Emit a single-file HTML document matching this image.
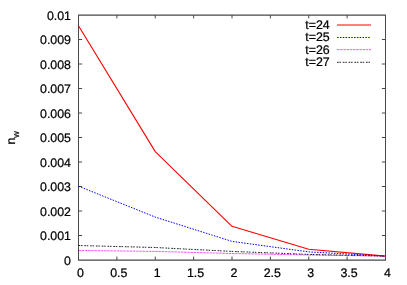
<!DOCTYPE html>
<html><head><meta charset="utf-8">
<style>
html,body{margin:0;padding:0;background:#fff;}
body{width:407px;height:285px;overflow:hidden;}
svg{display:block;will-change:transform;}
text{font-family:"Liberation Sans",sans-serif;font-size:12.4px;fill:#000;stroke:#000;stroke-width:0.22px;text-rendering:geometricPrecision;}
</style></head><body>
<svg width="407" height="285" viewBox="0 0 407 285">
<rect width="407" height="285" fill="#fff"/>
<g stroke="#484848" stroke-width="1" fill="none">
<path d="M78.5,15.0 L78.5,260.0 M385.5,15.0 L385.5,260.0"/>
<path stroke-width="1.2" d="M78.0,15.1 L386.0,15.1 M78.0,260.1 L386.0,260.1"/>
<path d="M78.5,235.50 h3.6 M385.5,235.50 h-3.6 M78.5,211.00 h3.6 M385.5,211.00 h-3.6 M78.5,186.50 h3.6 M385.5,186.50 h-3.6 M78.5,162.00 h3.6 M385.5,162.00 h-3.6 M78.5,137.50 h3.6 M385.5,137.50 h-3.6 M78.5,113.00 h3.6 M385.5,113.00 h-3.6 M78.5,88.50 h3.6 M385.5,88.50 h-3.6 M78.5,64.00 h3.6 M385.5,64.00 h-3.6 M78.5,39.50 h3.6 M385.5,39.50 h-3.6 M116.88,260.0 v-3.4 M116.88,15.0 v3.4 M155.25,260.0 v-3.4 M155.25,15.0 v3.4 M193.62,260.0 v-3.4 M193.62,15.0 v3.4 M232.00,260.0 v-3.4 M232.00,15.0 v3.4 M270.38,260.0 v-3.4 M270.38,15.0 v3.4 M308.75,260.0 v-3.4 M308.75,15.0 v3.4 M347.12,260.0 v-3.4 M347.12,15.0 v3.4"/>
</g>
<g fill="none" stroke-width="1" stroke-linejoin="round">
<polyline stroke="#ff0000" stroke-width="1.1" points="78.5,25.7 155.25,151.6 232,226.3 308.75,249.3 385.5,256.1"/>
<polyline stroke="#0000ff" stroke-dasharray="1.5 1.33" points="78.5,186.2 155.25,217.1 232,241.4 308.75,251.9 385.5,256.1"/>
<polyline stroke="#ff00ff" stroke-opacity="0.7" stroke-dasharray="2.4 0.8" points="78.5,250.45 155.25,251.4 232,253.5 308.75,255 385.5,256.1"/>
<polyline stroke="#222" stroke-dasharray="1.7 0.8 1.5 1.8" points="78.5,245.5 155.25,247.5 232,251.4 308.75,254.4 385.5,256.1"/>
</g>
<g fill="none" stroke-width="1">
<line x1="337" y1="25" x2="371" y2="25" stroke="#ff0000" stroke-width="1.2"/>
<line x1="337.1" y1="37.5" x2="371" y2="37.5" stroke="#0000ff" stroke-dasharray="1.5 1.33"/>
<line x1="337" y1="49.65" x2="371" y2="49.65" stroke="#ff00ff" stroke-opacity="0.7" stroke-dasharray="2.4 0.8"/>
<line x1="337" y1="62.3" x2="371" y2="62.3" stroke="#222" stroke-dasharray="1.7 0.8 1.5 1.8"/>
</g>
<g>
<text x="71" y="264.60" text-anchor="end">0</text>
<text x="71" y="240.10" text-anchor="end">0.001</text>
<text x="71" y="215.60" text-anchor="end">0.002</text>
<text x="71" y="191.10" text-anchor="end">0.003</text>
<text x="71" y="166.60" text-anchor="end">0.004</text>
<text x="71" y="142.10" text-anchor="end">0.005</text>
<text x="71" y="117.60" text-anchor="end">0.006</text>
<text x="71" y="93.10" text-anchor="end">0.007</text>
<text x="71" y="68.60" text-anchor="end">0.008</text>
<text x="71" y="44.10" text-anchor="end">0.009</text>
<text x="71" y="19.60" text-anchor="end">0.01</text>
<text x="80.40" y="276.6" text-anchor="middle">0</text>
<text x="118.78" y="276.6" text-anchor="middle">0.5</text>
<text x="157.15" y="276.6" text-anchor="middle">1</text>
<text x="195.53" y="276.6" text-anchor="middle">1.5</text>
<text x="233.90" y="276.6" text-anchor="middle">2</text>
<text x="272.27" y="276.6" text-anchor="middle">2.5</text>
<text x="310.65" y="276.6" text-anchor="middle">3</text>
<text x="349.02" y="276.6" text-anchor="middle">3.5</text>
<text x="387.40" y="276.6" text-anchor="middle">4</text>
</g>
<text transform="translate(15.3,144.6) rotate(-90)">n<tspan font-size="9" dy="3.3">w</tspan></text>
<g>
<text x="305.3" y="28.9">t=24</text>
<text x="305.3" y="41.3">t=25</text>
<text x="305.3" y="53.7">t=26</text>
<text x="305.3" y="66.1">t=27</text>
</g>
</svg>
</body></html>
